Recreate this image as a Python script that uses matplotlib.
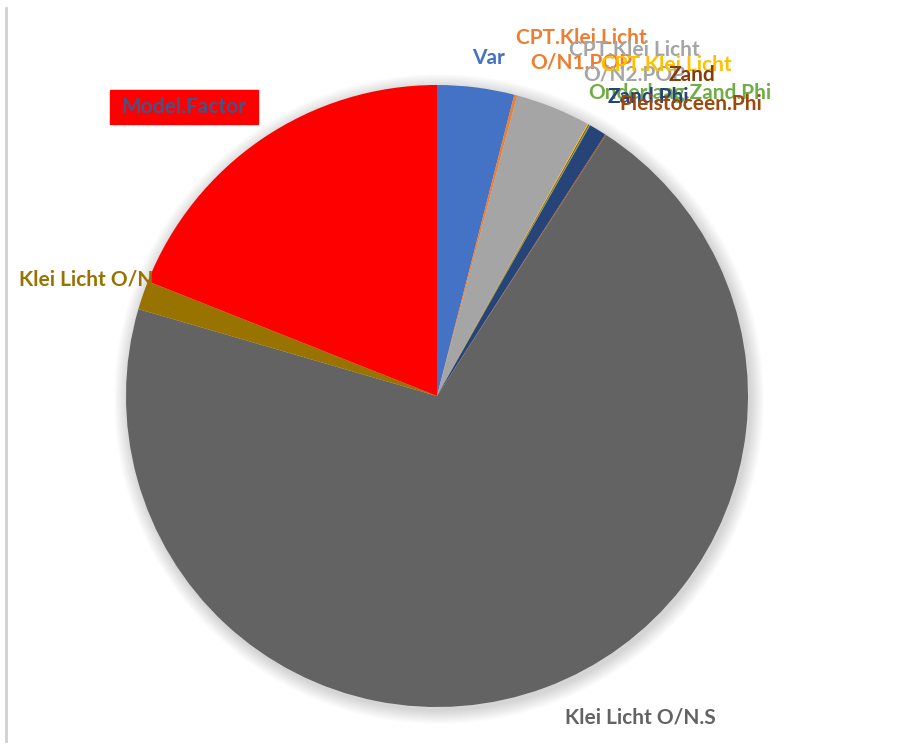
import matplotlib.pyplot as plt
from matplotlib.patches import Circle, Rectangle

# slice shares (percent), clockwise from 12 o'clock
labels = ["Var", "CPT.Klei Licht\nO/N1.POP", "CPT.Klei Licht\nO/N2.POP", "CPT.Klei Licht",
          "Zand", "Onderlaag.Zand.Phi", "Zand.Phi", "Pleistoceen.Phi",
          "Klei Licht O/N.S", "Klei Licht O/N", "Model.Factor"]
shares = [4.0, 0.15, 3.9, 0.05, 0.05, 0.05, 0.9, 0.05, 70.4, 1.5, 19.0]
slice_colors = ["#4472C4", "#ED7D31", "#A5A5A5", "#FFC000", "#843C0C", "#70AD47",
                "#264478", "#9E480E", "#636363", "#997300", "#FF0000"]
text_colors = ["#4472C4", "#ED7D31", "#A5A5A5", "#FFC000", "#843C0C", "#70AD47",
               "#264478", "#9E480E", "#636363", "#997300", "#44548A"]

# label anchor points in pixel space (x right, y down)
label_xy = [(489, 58), (581, 50), (634, 62), (666, 65), (692, 75), (680, 93),
            (648, 97), (691, 104), (640, 718), (86, 280), (184, 107)]

W, H = 920, 747
cx, cy, R = 437, 396, 311

fig = plt.figure(figsize=(W / 100, H / 100), dpi=100)
ax = fig.add_axes([0, 0, 1, 1])

# soft shadow under the pie
for i in range(14):
    ax.add_patch(Circle((cx + 2, H - cy - 3), R + 14 - i, color="black",
                        alpha=0.012, lw=0, zorder=0))

ax.pie(shares, colors=slice_colors, startangle=90, counterclock=False,
       center=(cx, H - cy), radius=R, frame=True,
       wedgeprops=dict(linewidth=0))
ax.set_xlim(0, W)
ax.set_ylim(0, H)
ax.set_aspect("equal")
ax.axis("off")

font = ["Lato", "DejaVu Sans"]
for lab, (x, y), col in zip(labels, label_xy, text_colors):
    kw = dict(ha="center", va="center", fontsize=15, fontweight="bold",
              color=col, family=font, linespacing=1.3, zorder=5)
    if lab == "Model.Factor":
        ax.add_patch(Rectangle((110, H - 124), 148, 34, color="#FF0000", zorder=4))
    ax.text(x, H - y, lab, **kw)

# thin frame line on the left
ax.plot([6, 6], [H - 8, 6], color="#D0D0D0", lw=2)

fig.savefig("out.png", dpi=100)
